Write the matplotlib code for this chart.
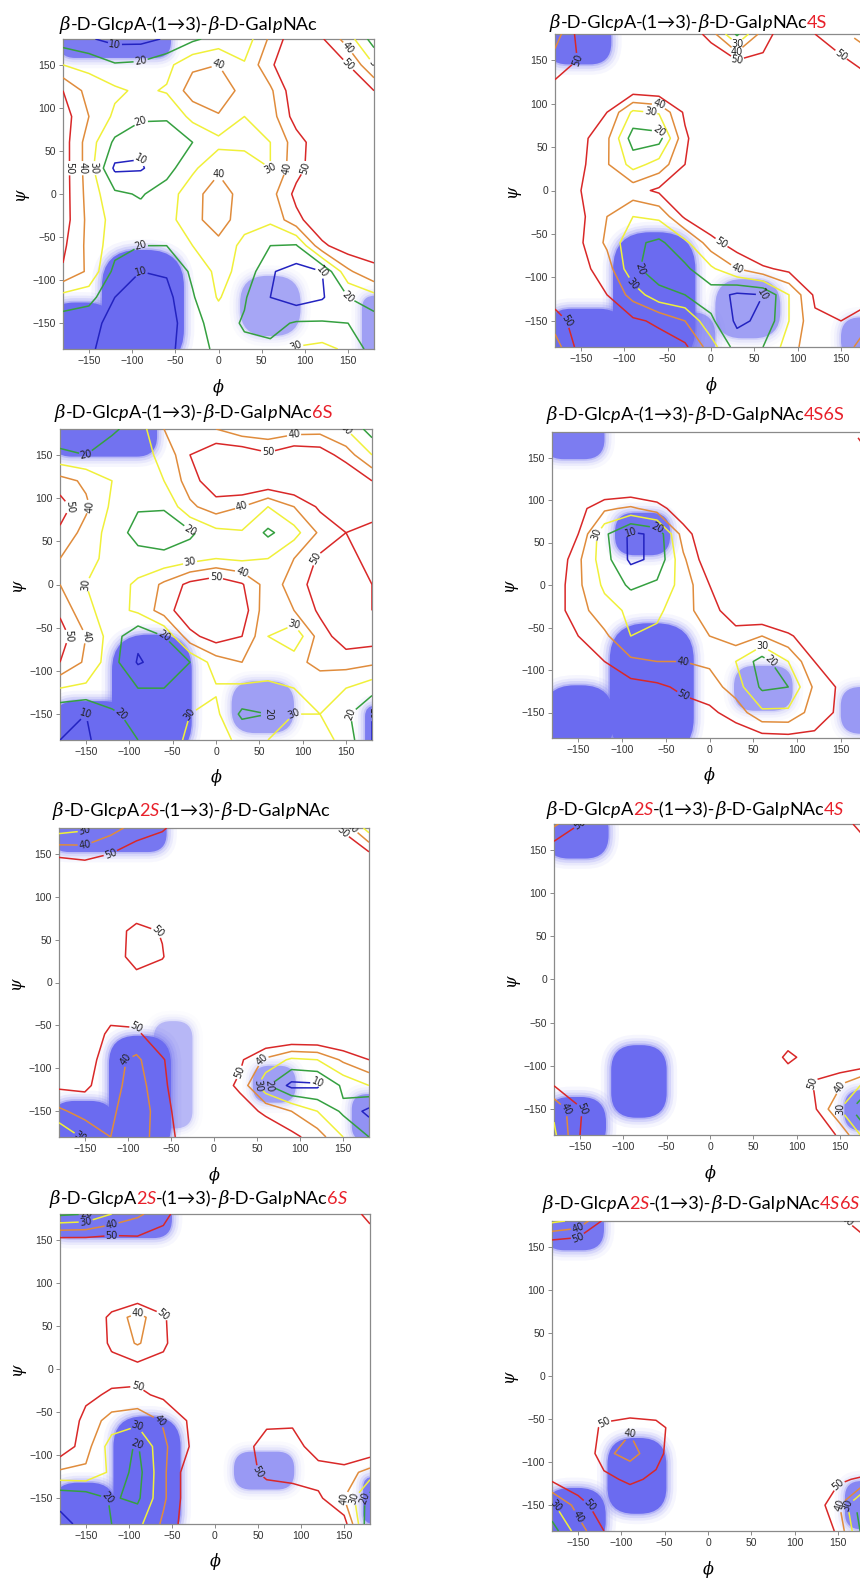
import numpy as np
import matplotlib
matplotlib.use("Agg")
import matplotlib.pyplot as plt
from matplotlib.patches import FancyBboxPatch

# grid of torsion angles (deg); energy rows run from psi=180 (top) to psi=-180
PHI = np.arange(-180, 181, 30)
PSI = np.arange(-180, 181, 30)
LEVELS = [10, 20, 30, 40, 50]
LEVEL_COLORS = ["#2323c0", "#35a040", "#f0f03a", "#e08c3c", "#d92828"]

ENERGY_1 = [
    [15, 11, 7, 7, 11, 18, 24, 24, 42, 58, 51, 35, 15],
    [30, 27, 21, 22, 27, 38, 40, 31, 48, 62, 60, 50, 30],
    [50, 36, 32, 28, 31, 45, 47, 36, 38, 58, 64, 62, 50],
    [55, 40, 28, 22, 21, 33, 39, 30, 35, 55, 65, 64, 55],
    [55, 35, 18, 12, 15, 20, 27, 29, 30, 45, 58, 64, 55],
    [55, 35, 8, 9, 16, 28, 38, 32, 30, 46, 58, 64, 55],
    [55, 36, 22, 19, 25, 36, 46, 35, 36, 53, 62, 65, 55],
    [55, 37, 26, 24, 26, 37, 45, 34, 32, 47, 58, 64, 55],
    [52, 37, 24, 20, 20, 30, 37, 27, 20, 19, 48, 56, 52],
    [49, 38, 17, 10, 11, 22, 33, 27, 11, 6, 10, 38, 49],
    [26, 24, 10, 5, 7, 19, 31, 21, 10, 5, 9, 20, 26],
    [15, 12, 8, 3, 5, 17, 24, 19, 17, 21, 21, 20, 15],
    [15, 11, 7, 5, 7, 16, 22, 22, 22, 31, 33, 28, 15],
]
ENERGY_2 = [
    [35, 55, 65, 65, 65, 60, 45, 18, 45, 58, 50, 42, 35],
    [44, 51, 65, 68, 68, 66, 60, 50, 52, 62, 60, 52, 45],
    [52, 56, 58, 60, 62, 66, 68, 68, 68, 68, 66, 62, 55],
    [58, 55, 50, 28, 31, 52, 65, 68, 68, 68, 68, 65, 58],
    [58, 53, 42, 15, 16, 48, 62, 68, 68, 68, 68, 65, 58],
    [58, 52, 41, 26, 34, 50, 62, 68, 68, 68, 68, 65, 58],
    [58, 50, 48, 46, 52, 58, 64, 68, 68, 68, 68, 65, 58],
    [58, 52, 40, 30, 32, 52, 60, 66, 68, 68, 68, 65, 58],
    [58, 51, 38, 22, 18, 27, 46, 56, 65, 68, 68, 65, 58],
    [58, 53, 45, 22, 15, 18, 28, 40, 48, 53, 60, 63, 58],
    [56, 54, 50, 36, 23, 20, 15, 8, 10, 30, 52, 60, 56],
    [45, 56, 58, 52, 48, 40, 22, 8, 12, 30, 48, 50, 42],
    [35, 55, 58, 56, 55, 52, 35, 15, 20, 35, 48, 45, 35],
]
ENERGY_3 = [
    [14, 10, 18, 25, 40, 48, 40, 33, 32, 35, 36, 30, 15],
    [22, 20, 26, 27, 32, 50, 58, 58, 52, 58, 56, 45, 30],
    [44, 38, 30, 26, 30, 45, 58, 62, 60, 62, 64, 62, 50],
    [55, 42, 28, 21, 21, 38, 45, 40, 30, 40, 52, 58, 56],
    [48, 36, 26, 16, 14, 18, 27, 29, 18, 26, 42, 50, 46],
    [40, 32, 28, 24, 23, 26, 30, 28, 30, 40, 52, 55, 45],
    [40, 30, 25, 32, 42, 53, 58, 51, 35, 44, 56, 60, 50],
    [48, 32, 26, 32, 45, 58, 61, 56, 32, 40, 52, 58, 50],
    [55, 40, 25, 12, 20, 47, 55, 50, 30, 22, 45, 56, 55],
    [50, 38, 24, 9, 14, 20, 35, 40, 40, 36, 44, 44, 42],
    [30, 28, 28, 20, 20, 28, 29, 28, 26, 30, 32, 30, 24],
    [12, 10, 18, 24, 28, 30, 32, 18, 20, 30, 30, 22, 10],
    [10, 9, 14, 20, 25, 32, 33, 28, 30, 35, 36, 25, 10],
]
ENERGY_4 = [
    [62, 62, 65, 65, 65, 65, 65, 65, 65, 65, 65, 55, 45],
    [62, 62, 65, 65, 65, 65, 65, 65, 65, 65, 65, 62, 52],
    [64, 64, 65, 65, 65, 65, 65, 65, 65, 65, 65, 64, 62],
    [62, 54, 42, 38, 45, 58, 65, 65, 65, 65, 65, 64, 62],
    [62, 50, 22, 8, 12, 45, 60, 65, 65, 65, 65, 64, 62],
    [62, 42, 24, 8, 12, 38, 58, 65, 65, 65, 65, 64, 62],
    [58, 42, 28, 18, 22, 34, 50, 62, 65, 65, 65, 64, 60],
    [56, 44, 34, 28, 28, 36, 46, 56, 62, 65, 65, 64, 60],
    [58, 50, 42, 30, 32, 38, 40, 46, 40, 48, 58, 62, 60],
    [60, 56, 50, 42, 40, 40, 38, 30, 15, 30, 50, 60, 60],
    [62, 60, 56, 54, 52, 48, 45, 35, 18, 20, 42, 52, 55],
    [62, 62, 60, 58, 56, 54, 52, 46, 32, 32, 45, 52, 55],
    [62, 62, 62, 62, 60, 60, 58, 56, 54, 53, 52, 55, 58],
]
ENERGY_5 = [
    [25, 28, 36, 44, 48, 60, 65, 65, 65, 65, 62, 48, 25],
    [48, 46, 50, 56, 62, 65, 65, 65, 65, 65, 65, 60, 52],
    [62, 62, 65, 65, 65, 65, 65, 65, 65, 65, 65, 65, 62],
    [65, 65, 65, 62, 65, 65, 65, 65, 65, 65, 65, 65, 65],
    [65, 65, 58, 45, 51, 65, 65, 65, 65, 65, 65, 65, 65],
    [65, 65, 58, 44, 49, 65, 65, 65, 65, 65, 65, 65, 65],
    [65, 65, 62, 56, 60, 65, 65, 65, 65, 65, 65, 65, 65],
    [65, 65, 56, 56, 62, 65, 65, 65, 65, 65, 65, 65, 65],
    [65, 60, 47, 48, 58, 65, 65, 65, 65, 65, 65, 65, 65],
    [62, 56, 43, 38, 49, 60, 62, 52, 38, 28, 30, 42, 50],
    [52, 52, 44, 35, 48, 58, 56, 48, 22, 7, 8, 22, 30],
    [38, 44, 42, 33, 46, 57, 58, 55, 48, 40, 30, 18, 7],
    [20, 32, 40, 35, 45, 55, 60, 60, 58, 53, 45, 30, 20],
]
ENERGY_6 = [
    [38, 50, 62, 65, 65, 65, 65, 65, 65, 65, 65, 58, 42],
    [56, 60, 65, 65, 65, 65, 65, 65, 65, 65, 65, 62, 56],
    [65, 65, 65, 65, 65, 65, 65, 65, 65, 65, 65, 65, 65],
    [65, 65, 65, 65, 65, 65, 65, 65, 65, 65, 65, 65, 65],
    [65, 65, 65, 65, 65, 65, 65, 65, 65, 65, 65, 65, 65],
    [65, 65, 65, 65, 65, 65, 65, 65, 65, 65, 65, 65, 65],
    [65, 65, 65, 65, 65, 65, 65, 65, 65, 65, 65, 65, 65],
    [65, 65, 65, 65, 65, 65, 65, 65, 65, 65, 65, 65, 65],
    [65, 65, 65, 65, 65, 65, 65, 65, 65, 62, 65, 65, 65],
    [65, 65, 65, 65, 65, 65, 65, 65, 65, 46, 58, 62, 65],
    [52, 60, 65, 65, 65, 65, 65, 65, 65, 62, 49, 42, 28],
    [32, 49, 62, 65, 65, 65, 65, 65, 65, 62, 52, 30, 8],
    [28, 50, 62, 65, 65, 65, 65, 65, 65, 65, 60, 48, 25],
]
ENERGY_7 = [
    [18, 20, 30, 38, 46, 60, 65, 65, 65, 65, 65, 60, 45],
    [53, 53, 54, 52, 55, 65, 65, 65, 65, 65, 65, 62, 58],
    [65, 65, 65, 65, 65, 65, 65, 65, 65, 65, 65, 65, 65],
    [65, 65, 65, 62, 65, 65, 65, 65, 65, 65, 65, 65, 65],
    [65, 65, 46, 36, 48, 65, 65, 65, 65, 65, 65, 65, 65],
    [65, 65, 47, 39, 47, 65, 65, 65, 65, 65, 65, 65, 65],
    [65, 65, 56, 54, 56, 65, 65, 65, 65, 65, 65, 65, 65],
    [65, 53, 48, 48, 52, 62, 65, 65, 65, 65, 65, 65, 65],
    [62, 46, 36, 33, 41, 51, 62, 62, 54, 52, 60, 65, 65],
    [58, 44, 25, 19, 38, 50, 60, 58, 42, 45, 56, 62, 60],
    [38, 38, 28, 16, 38, 56, 60, 58, 46, 44, 45, 45, 36],
    [12, 14, 21, 18, 38, 56, 60, 60, 60, 58, 52, 40, 15],
    [8, 12, 20, 27, 42, 56, 62, 62, 62, 62, 60, 55, 10],
]
ENERGY_8 = [
    [28, 32, 52, 65, 65, 65, 65, 65, 65, 65, 65, 55, 40],
    [58, 60, 65, 65, 65, 65, 65, 65, 65, 65, 65, 62, 58],
    [65, 65, 65, 65, 65, 65, 65, 65, 65, 65, 65, 65, 65],
    [65, 65, 65, 65, 65, 65, 65, 65, 65, 65, 65, 65, 65],
    [65, 65, 65, 65, 65, 65, 65, 65, 65, 65, 65, 65, 65],
    [65, 65, 65, 65, 65, 65, 65, 65, 65, 65, 65, 65, 65],
    [65, 65, 65, 65, 65, 65, 65, 65, 65, 65, 65, 65, 65],
    [65, 65, 65, 65, 65, 65, 65, 65, 65, 65, 65, 65, 65],
    [65, 65, 46, 41, 44, 60, 65, 65, 65, 65, 65, 65, 65],
    [65, 65, 42, 37, 45, 62, 65, 65, 65, 65, 65, 65, 65],
    [52, 60, 54, 47, 53, 65, 65, 65, 65, 65, 60, 52, 48],
    [28, 44, 58, 62, 65, 65, 65, 65, 65, 65, 58, 42, 10],
    [15, 35, 50, 62, 65, 65, 65, 65, 65, 65, 62, 48, 15],
]

# sampled conformer clouds: (phi_min, phi_max, psi_min, psi_max, density)
CLOUDS_1 = [(-185, -55, 158, 200, 0.8), (-135, -40, -200, -65, 1.0),
            (-200, -120, -200, -126, 1.0), (25, 95, -165, -95, 0.45),
            (166, 200, -190, -118, 0.5)]
CLOUDS_2 = [(-190, -115, 145, 200, 0.9), (-113, -18, -200, -48, 1.0),
            (-60, 5, -200, -140, 0.55), (-190, -100, -200, -136, 1.0),
            (5, 80, -170, -102, 0.5), (150, 200, -195, -146, 0.55)]
CLOUDS_3 = [(-190, -68, 148, 200, 0.9), (-120, -28, -200, -58, 1.0),
            (-190, -100, -200, -135, 1.0), (18, 90, -172, -112, 0.5),
            (172, 200, -195, -140, 0.8)]
CLOUDS_4 = [(-190, -120, 148, 200, 0.8), (-108, -45, 35, 85, 0.9),
            (-114, -18, -200, -45, 1.0), (-190, -110, -200, -118, 1.0),
            (28, 95, -148, -95, 0.5), (150, 200, -175, -120, 0.55)]
CLOUDS_5 = [(-190, -55, 152, 200, 0.85), (-122, -50, -200, -62, 1.0),
            (-70, -25, -170, -45, 0.35), (-190, -115, -200, -138, 1.0),
            (45, 95, -140, -97, 0.5), (160, 200, -185, -130, 0.6)]
CLOUDS_6 = [(-190, -117, 140, 200, 0.9), (-114, -50, -160, -76, 1.0),
            (-190, -120, -200, -136, 1.0), (155, 200, -175, -128, 0.7)]
CLOUDS_7 = [(-190, -50, 152, 200, 0.85), (-118, -40, -200, -55, 1.0),
            (-190, -115, -200, -132, 1.0), (22, 92, -140, -96, 0.55),
            (172, 200, -180, -125, 0.8)]
CLOUDS_8 = [(-190, -120, 146, 200, 0.85), (-116, -48, -160, -72, 1.0),
            (-190, -118, -200, -130, 1.0), (158, 200, -178, -122, 0.7)]

# title pieces: (text, style)  n=normal, i=italic, b=greek italic, r=red, ri=red italic
HEAD = [("β", "b"), ("-D-Glc", "n"), ("p", "i"), ("A", "n")]
LINK = [("-(1→3)-", "n"), ("β", "b"), ("-D-Gal", "n"), ("p", "i"), ("NAc", "n")]
TITLES = [
    HEAD + LINK,
    HEAD + LINK + [("4S", "r")],
    HEAD + LINK + [("6S", "r")],
    HEAD + LINK + [("4S6S", "r")],
    HEAD + [("2", "r"), ("S", "ri")] + LINK,
    HEAD + [("2", "r"), ("S", "ri")] + LINK + [("4", "r"), ("S", "ri")],
    HEAD + [("2", "r"), ("S", "ri")] + LINK + [("6", "r"), ("S", "ri")],
    HEAD + [("2", "r"), ("S", "ri")] + LINK + [("4", "r"), ("S", "ri"), ("6", "r"), ("S", "ri")],
]

ENERGIES = [ENERGY_1, ENERGY_2, ENERGY_3, ENERGY_4, ENERGY_5, ENERGY_6, ENERGY_7, ENERGY_8]
CLOUDS = [CLOUDS_1, CLOUDS_2, CLOUDS_3, CLOUDS_4, CLOUDS_5, CLOUDS_6, CLOUDS_7, CLOUDS_8]

# layout in pixels: axes (left, top, right, bottom), title (left, baseline)
W, H = 860, 1578
AXES_PX = [(63, 39, 374, 349), (555, 34, 867, 347),
           (60, 429, 372, 740), (552, 432, 867, 738),
           (59, 828, 369, 1137), (554, 824, 866, 1135),
           (60, 1214, 370, 1524), (552, 1221, 864, 1531)]
TITLE_PX = [(60, 30), (550, 28), (55, 418), (547, 420),
            (53, 816), (547, 815), (50, 1204), (543, 1209)]

CLOUD_COLOR = "#6b6bf0"
SANS = ["Lato", "DejaVu Sans"]
STYLES = {
    "n": dict(family=SANS, color="black"),
    "i": dict(family=SANS, color="black", style="italic"),
    "b": dict(family=["DejaVu Serif"], color="black", style="italic"),
    "r": dict(family=SANS, color="#e8202a"),
    "ri": dict(family=SANS, color="#e8202a", style="italic"),
}


def draw_cloud(ax, box):
    x0, x1, y0, y1, dens = box
    r = min(x1 - x0, y1 - y0) * 0.45
    for grow, a in [(12, 0.06), (8, 0.1), (5, 0.16), (2, 0.3), (0, 1.0)]:
        patch = FancyBboxPatch((x0 - grow, y0 - grow), x1 - x0 + 2 * grow, y1 - y0 + 2 * grow,
                               boxstyle=f"round,pad=0,rounding_size={r + grow}",
                               facecolor=CLOUD_COLOR, edgecolor="none",
                               alpha=a * dens, zorder=1)
        ax.add_patch(patch)


def draw_title(fig, renderer, x_px, y_px, pieces, size):
    x = x_px
    for text, style in pieces:
        t = fig.text(x / W, 1 - y_px / H, text, fontsize=size, va="baseline", ha="left",
                     **STYLES[style])
        x += t.get_window_extent(renderer).width


fig = plt.figure(figsize=(W / 100, H / 100), dpi=100)
renderer = fig.canvas.get_renderer()

for k in range(8):
    l, t, r, b = AXES_PX[k]
    ax = fig.add_axes([l / W, 1 - b / H, (r - l) / W, (b - t) / H])
    ax.set_xlim(-180, 180)
    ax.set_ylim(-180, 180)
    for box in CLOUDS[k]:
        draw_cloud(ax, box)
    Z = np.flipud(np.array(ENERGIES[k], dtype=float))
    cs = ax.contour(PHI, PSI, Z, levels=LEVELS, colors=LEVEL_COLORS, linewidths=1.1, zorder=3)
    labels = ax.clabel(cs, fmt="%d", fontsize=7, inline=True, inline_spacing=1, colors="#222222")
    # drop labels that would fall past the right edge of the figure
    for txt in labels:
        if ax.transData.transform(txt.get_position())[0] > W - 12:
            txt.remove()
    ax.set_xticks([-150, -100, -50, 0, 50, 100, 150])
    ax.set_yticks([-150, -100, -50, 0, 50, 100, 150])
    ax.tick_params(direction="out", length=3, width=0.6, colors="#777777",
                   labelcolor="#333333", labelsize=7.5, pad=2)
    for s in ax.spines.values():
        s.set_color("#8a8a8a")
        s.set_linewidth(0.9)
    for lab in ax.get_xticklabels() + ax.get_yticklabels():
        lab.set_family(["Liberation Sans", "DejaVu Sans"])
    hgt = b - t
    ax.text(0.5, -38 / hgt, "ϕ", transform=ax.transAxes, ha="center", va="center",
            fontsize=11.5, family="DejaVu Serif", style="italic")
    ax.text(-44 / (r - l), 0.5, "ψ", transform=ax.transAxes, ha="center", va="center",
            fontsize=11.5, family="DejaVu Serif", style="italic", rotation=90)

# calibrate title size so the first title spans ~257 px
probe = [fig.text(0, 0, txt, fontsize=10, **STYLES[st]) for txt, st in TITLES[0]]
width10 = sum(p.get_window_extent(renderer).width for p in probe)
for p in probe:
    p.remove()
title_size = 10 * 257 / width10

for k in range(8):
    draw_title(fig, renderer, TITLE_PX[k][0], TITLE_PX[k][1], TITLES[k], title_size)

fig.savefig("out.png", dpi=100)
